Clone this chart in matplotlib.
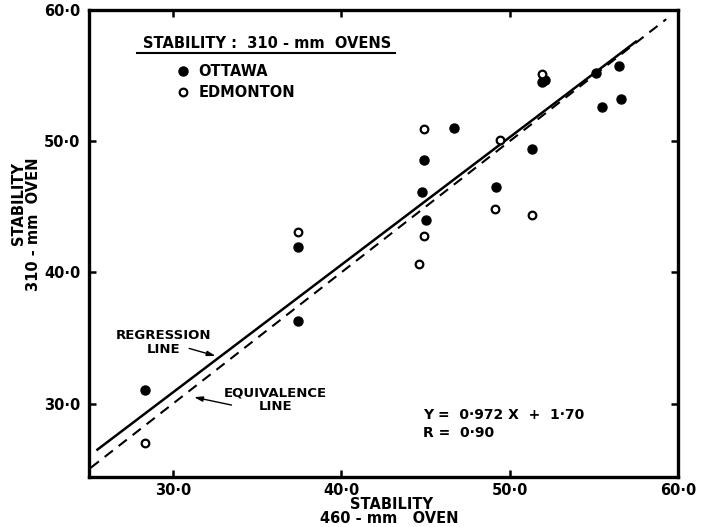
import matplotlib
matplotlib.use("agg")
from matplotlib import pyplot as plt
from matplotlib.ticker import FixedLocator, FuncFormatter

plt.rcParams["font.family"] = ["DejaVu Sans"]
plt.rcParams["font.weight"] = "bold"

# stability, 460-mm oven (x) vs 310-mm oven (y)
ottawa_x = [28.3, 37.4, 37.4, 44.8, 44.9, 45.0, 46.7, 49.2, 51.3, 51.9, 52.1, 55.1, 56.5, 55.5, 56.6]
ottawa_y = [31.0, 41.9, 36.3, 46.1, 48.6, 44.0, 51.0, 46.5, 49.4, 54.5, 54.7, 55.2, 55.7, 52.6, 53.2]
edmonton_x = [28.3, 37.4, 44.9, 44.6, 44.9, 49.4, 49.1, 51.3, 51.9]
edmonton_y = [27.0, 43.1, 42.8, 40.6, 50.9, 50.1, 44.8, 44.4, 55.1]

# Y = 0.972 X + 1.70, R = 0.90
slope = 0.972
intercept = 1.70
reg_x = [25.5, 57.5]
equiv_x = [25.1, 59.3]

ticks = [30, 40, 50, 60]

fig = plt.figure(figsize=(7.08, 5.27), dpi=100)
ax = fig.add_axes([0.1257, 0.0949, 0.8319, 0.8861])

ax.plot(reg_x, [slope * v + intercept for v in reg_x], color="black", lw=1.8)
ax.plot(equiv_x, equiv_x, color="black", lw=1.5, dashes=(5, 3.5))

ax.plot(ottawa_x, ottawa_y, "o", color="black", ms=6.5, label="OTTAWA")
ax.plot(edmonton_x, edmonton_y, "o", mfc="white", mec="black", mew=1.6, ms=5.5,
        label="EDMONTON")

ax.set_xlim(25, 60)
ax.set_ylim(24.4, 60)
ax.xaxis.set_major_locator(FixedLocator(ticks))
ax.yaxis.set_major_locator(FixedLocator(ticks))
fmt = FuncFormatter(lambda v, p: f"{v:.1f}".replace(".", "\u00b7"))
ax.xaxis.set_major_formatter(fmt)
ax.yaxis.set_major_formatter(fmt)
ax.tick_params(direction="in", length=5, width=1.8, labelsize=10.5, pad=6,
               top=True, right=True)
ax.tick_params(axis="x", pad=4)
for s in ax.spines.values():
    s.set_linewidth(2.4)

fs = 10.5
# legend block
ax.text(0.0917, 0.929, "STABILITY :  310 - mm  OVENS", transform=ax.transAxes,
        fontsize=fs, va="center", ha="left")
ax.plot([0.0815, 0.52], [0.909, 0.909], color="black", lw=1.5, transform=ax.transAxes)
ax.legend(loc="upper left", bbox_to_anchor=(0.1467, 0.885), frameon=False,
          fontsize=fs, handlelength=1.0, handletextpad=0.6, labelspacing=0.45,
          borderpad=0, borderaxespad=0, numpoints=1)

# line annotations
ax.text(29.45, 34.64, "REGRESSION\nLINE", fontsize=9.5, ha="center", va="center",
        linespacing=1.1)
ax.annotate("", xy=(32.68, 33.57), xytext=(30.79, 34.26),
            arrowprops=dict(arrowstyle="-|>,head_length=0.5,head_width=0.15",
                            color="black", lw=1))
ax.text(36.06, 30.30, "EQUIVALENCE\nLINE", fontsize=9.5, ha="center", va="center",
        linespacing=1.1)
ax.annotate("", xy=(31.08, 30.53), xytext=(33.63, 29.84),
            arrowprops=dict(arrowstyle="-|>,head_length=0.5,head_width=0.15",
                            color="black", lw=1))

ax.text(44.83, 29.15, "Y =  0\u00b7972 X  +  1\u00b770", fontsize=10, va="center")
ax.text(44.83, 27.78, "R =  0\u00b790", fontsize=10, va="center")

# axis labels
ax.text(0.514, -0.058, "STABILITY", transform=ax.transAxes, fontsize=fs,
        ha="center", va="center")
ax.text(0.509, -0.089, "460 - mm   OVEN", transform=ax.transAxes, fontsize=fs,
        ha="center", va="center")
ax.text(-0.119, 0.585, "STABILITY", transform=ax.transAxes, fontsize=fs,
        ha="center", va="center", rotation=90)
ax.text(-0.095, 0.542, "310 - mm  OVEN", transform=ax.transAxes, fontsize=fs,
        ha="center", va="center", rotation=90)

fig.savefig("out.png", dpi=100)
